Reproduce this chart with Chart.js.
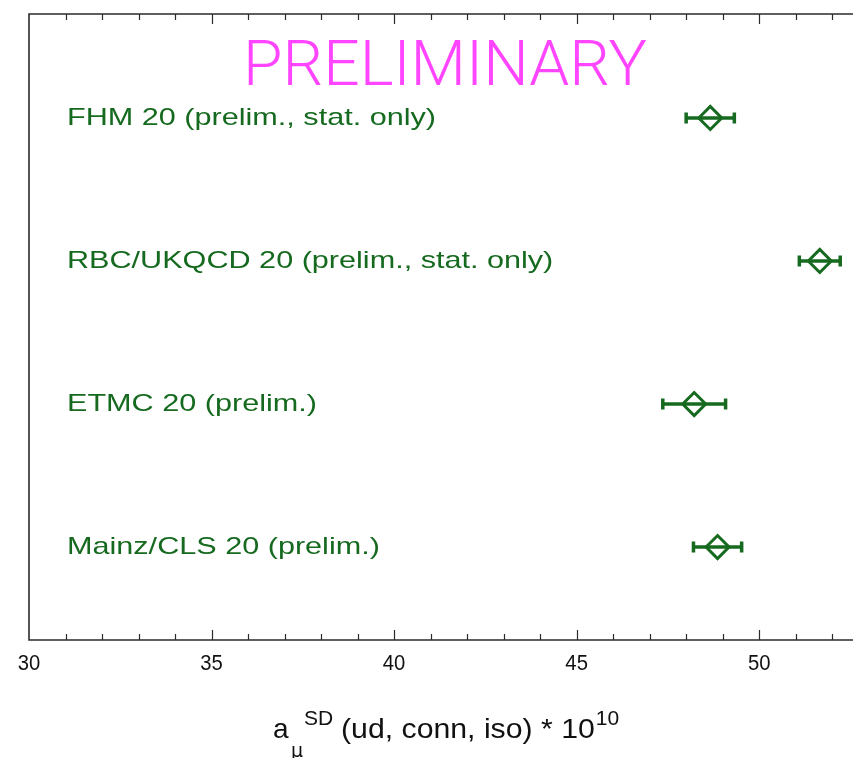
<!DOCTYPE html>
<html>
<head>
<meta charset="utf-8">
<script src="https://cdn.jsdelivr.net/npm/chart.js@4/dist/chart.umd.min.js"></script>
<style>
  html, body { margin: 0; padding: 0; background: #ffffff; }
  #c { display: block; }
</style>
</head>
<body>
<canvas id="c" width="853" height="758"></canvas>
<script>
// ---------------- data ----------------
const collaborations = [
  'FHM 20 (prelim., stat. only)',
  'RBC/UKQCD 20 (prelim., stat. only)',
  'ETMC 20 (prelim.)',
  'Mainz/CLS 20 (prelim.)'
];
const rowPositions  = [4, 3, 2, 1];
const centralValues = [48.66, 51.66, 48.22, 48.86];
const errorMinus    = [0.66, 0.56, 0.86, 0.66];
const errorPlus     = [0.66, 0.56, 0.86, 0.66];
const xTickValues   = [30, 35, 40, 45, 50];
const xTickLabels   = ['30', '35', '40', '45', '50'];
const watermarkText = 'PRELIMINARY';

// ---------------- style ----------------
const GREEN = '#166a1f';
const MAGENTA = '#ff45ff';
const AXIS = '#2b2b2b';

const points = centralValues.map((v, i) => ({ x: v, y: rowPositions[i] }));

const decorations = {
  id: 'decorations',
  beforeDatasetsDraw(chart) {
    const ctx = chart.ctx, xs = chart.scales.x, ys = chart.scales.y;
    ctx.save();
    ctx.strokeStyle = GREEN;
    ctx.lineWidth = 3.5;
    ctx.lineCap = 'butt';
    centralValues.forEach((v, i) => {
      const y = ys.getPixelForValue(rowPositions[i]);
      const x0 = xs.getPixelForValue(v - errorMinus[i]);
      const x1 = xs.getPixelForValue(v + errorPlus[i]);
      ctx.beginPath();
      ctx.moveTo(x0, y); ctx.lineTo(x1, y);
      ctx.stroke();
      ctx.beginPath();
      ctx.moveTo(x0, y - 5.5); ctx.lineTo(x0, y + 5.5);
      ctx.moveTo(x1, y - 5.5); ctx.lineTo(x1, y + 5.5);
      ctx.stroke();
    });
    ctx.restore();
  },
  afterDraw(chart) {
    const ctx = chart.ctx, xs = chart.scales.x, ys = chart.scales.y;
    const ca = chart.chartArea;
    ctx.save();
    // frame
    ctx.strokeStyle = AXIS;
    ctx.lineWidth = 1.6;
    ctx.beginPath();
    ctx.moveTo(ca.right + 2, ca.top);
    ctx.lineTo(ca.left, ca.top);
    ctx.lineTo(ca.left, ca.bottom);
    ctx.lineTo(ca.right + 2, ca.bottom);
    ctx.stroke();
    // inward ticks (major every 5, minor every 1)
    ctx.lineWidth = 1.2;
    ctx.beginPath();
    for (let v = Math.ceil(xs.min) + 1; v <= xs.max; v++) {
      const px = Math.round(xs.getPixelForValue(v)) + 0.5;
      const len = (v % 5 === 0) ? 10 : 6;
      ctx.moveTo(px, ca.bottom); ctx.lineTo(px, ca.bottom - len);
      ctx.moveTo(px, ca.top); ctx.lineTo(px, ca.top + len);
    }
    ctx.stroke();
    // tick labels
    ctx.fillStyle = '#111111';
    ctx.font = '22px "Liberation Sans", Arial, sans-serif';
    ctx.textAlign = 'center';
    ctx.textBaseline = 'alphabetic';
    xTickValues.forEach((v, i) => {
      ctx.save();
      ctx.translate(xs.getPixelForValue(v), 670);
      ctx.scale(0.92, 1);
      ctx.fillText(xTickLabels[i], 0, 0);
      ctx.restore();
    });
    // axis title: a_mu^SD (ud, conn, iso) * 10^10
    ctx.textAlign = 'left';
    ctx.font = '28px "Liberation Sans", Arial, sans-serif';
    ctx.fillText('a', 273, 738);
    ctx.font = '19px "DejaVu Sans", "Liberation Sans", sans-serif';
    ctx.fillText('\u03bc', 291, 757);
    ctx.font = '21px "Liberation Sans", Arial, sans-serif';
    ctx.fillText('SD', 304, 725);
    ctx.save();
    ctx.translate(341, 738);
    ctx.scale(1.08, 1);
    ctx.font = '28px "Liberation Sans", Arial, sans-serif';
    const mainPart = '(ud, conn, iso) * 10';
    ctx.fillText(mainPart, 0, 0);
    const w = ctx.measureText(mainPart).width;
    ctx.restore();
    ctx.font = '21px "Liberation Sans", Arial, sans-serif';
    ctx.fillText('10', 341 + w * 1.08 + 1, 725);
    // collaboration labels
    ctx.fillStyle = GREEN;
    ctx.font = '24px "Liberation Sans", Arial, sans-serif';
    collaborations.forEach((lab, i) => {
      const y = ys.getPixelForValue(rowPositions[i]) + 7;
      ctx.save();
      ctx.translate(67, y);
      ctx.scale(1.275, 1);
      ctx.fillText(lab, 0, 0);
      ctx.restore();
    });
    // watermark
    ctx.fillStyle = MAGENTA;
    ctx.font = '300 63px Roboto, "Liberation Sans", sans-serif';
    const mw = ctx.measureText(watermarkText).width;
    const sx = 404 / mw;
    ctx.save();
    ctx.translate(445, 85);
    ctx.scale(sx, 1);
    ctx.textAlign = 'center';
    ctx.fillText(watermarkText, 0, 0);
    ctx.restore();
    ctx.restore();
  }
};

new Chart(document.getElementById('c'), {
  type: 'scatter',
  data: {
    datasets: [{
      data: points,
      pointStyle: 'rectRot',
      pointRadius: 11.5,
      pointHoverRadius: 11.5,
      borderColor: GREEN,
      backgroundColor: 'rgba(0,0,0,0)',
      pointBorderWidth: 3,
      borderWidth: 3,
      showLine: false
    }]
  },
  options: {
    responsive: false,
    devicePixelRatio: 1,
    animation: false,
    layout: { autoPadding: false, padding: { left: 29, top: 14, right: 0, bottom: 118 } },
    plugins: { legend: { display: false }, tooltip: { enabled: false } },
    scales: {
      x: { type: 'linear', min: 30, max: 52.57, display: false },
      y: { type: 'linear', min: 0.35, max: 4.727, display: false }
    }
  },
  plugins: [decorations]
});
</script>
</body>
</html>
